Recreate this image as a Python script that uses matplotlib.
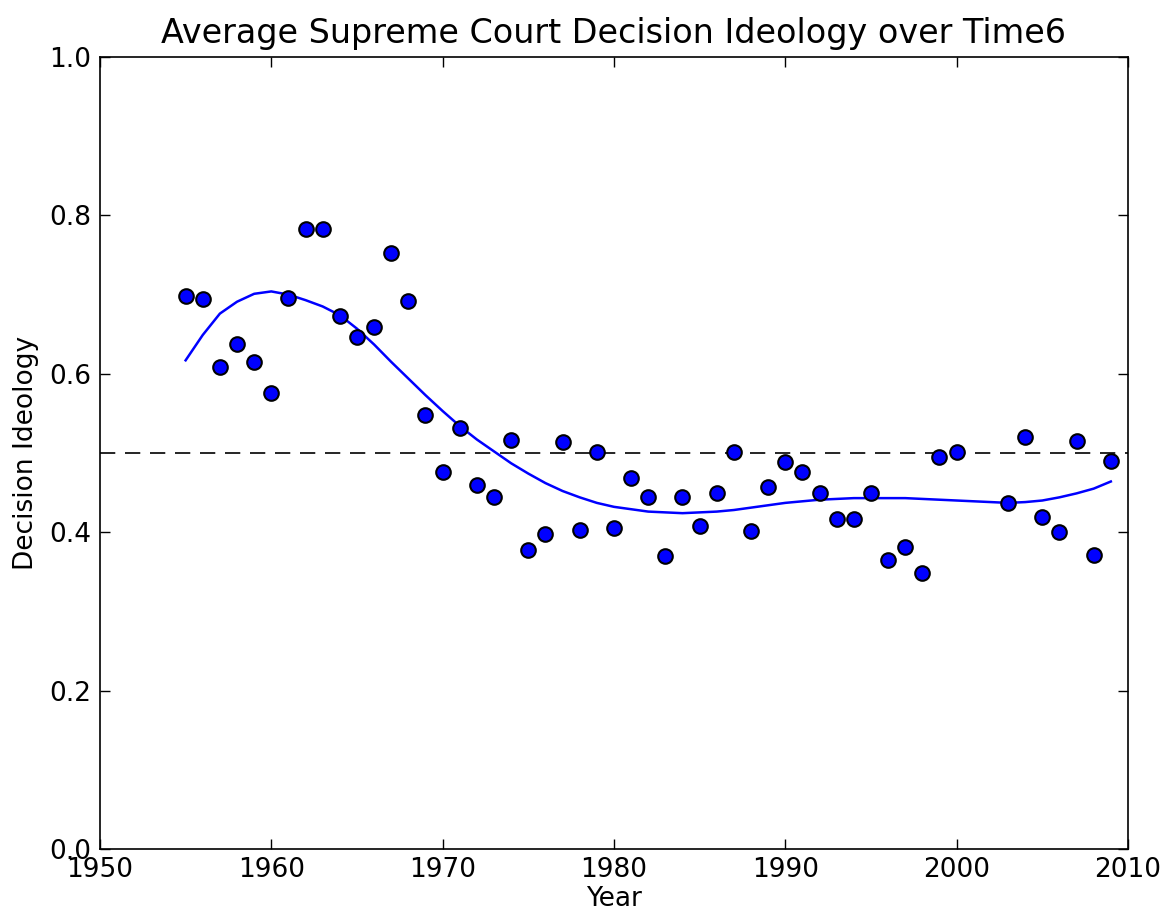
import matplotlib
matplotlib.use("Agg")
import matplotlib.pyplot as plt
import numpy as np

# yearly averages (2001, 2002 missing)
years = [1955, 1956, 1957, 1958, 1959, 1960, 1961, 1962, 1963, 1964,
         1965, 1966, 1967, 1968, 1969, 1970, 1971, 1972, 1973, 1974,
         1975, 1976, 1977, 1978, 1979, 1980, 1981, 1982, 1983, 1984,
         1985, 1986, 1987, 1988, 1989, 1990, 1991, 1992, 1993, 1994,
         1995, 1996, 1997, 1998, 1999, 2000, 2003, 2004, 2005, 2006,
         2007, 2008, 2009]
ideology = [0.698, 0.694, 0.609, 0.638, 0.615, 0.576, 0.696, 0.783, 0.783, 0.673,
            0.646, 0.659, 0.752, 0.692, 0.548, 0.476, 0.532, 0.459, 0.445, 0.517,
            0.378, 0.398, 0.514, 0.403, 0.501, 0.405, 0.468, 0.444, 0.370, 0.444,
            0.408, 0.449, 0.501, 0.402, 0.457, 0.489, 0.476, 0.449, 0.417, 0.417,
            0.449, 0.365, 0.381, 0.348, 0.495, 0.501, 0.437, 0.520, 0.419, 0.400,
            0.515, 0.371, 0.490]

# smoothed trend
trend_years = [1955, 1956, 1957, 1958, 1959, 1960, 1961, 1962, 1963, 1964,
               1965, 1966, 1967, 1968, 1969, 1970, 1971, 1972, 1973, 1974,
               1975, 1976, 1977, 1978, 1979, 1980, 1981, 1982, 1983, 1984,
               1985, 1986, 1987, 1988, 1989, 1990, 1991, 1992, 1993, 1994,
               1995, 1996, 1997, 1998, 1999, 2000, 2003, 2004, 2005, 2006,
               2007, 2008, 2009]
trend = [0.617, 0.649, 0.676, 0.691, 0.701, 0.704, 0.700, 0.693, 0.685, 0.674,
         0.657, 0.637, 0.615, 0.594, 0.573, 0.553, 0.534, 0.517, 0.502, 0.487,
         0.474, 0.462, 0.452, 0.444, 0.437, 0.432, 0.429, 0.426, 0.425, 0.424,
         0.425, 0.426, 0.428, 0.431, 0.434, 0.437, 0.439, 0.441, 0.442, 0.443,
         0.443, 0.443, 0.443, 0.442, 0.441, 0.440, 0.437, 0.438, 0.440, 0.444,
         0.449, 0.455, 0.464]

x_ticks = [1950, 1960, 1970, 1980, 1990, 2000, 2010]
y_ticks = [0.0, 0.2, 0.4, 0.6, 0.8, 1.0]

plt.rcParams['font.family'] = 'DejaVu Sans'
plt.rcParams['lines.scale_dashes'] = False

fig = plt.figure(figsize=(11.69, 9.18), dpi=100)
ax = fig.add_axes([0.0855, 0.0752, 0.8794, 0.8627])

ax.axhline(0.5, color='black', linewidth=1.2, dashes=(11, 7))
ax.plot(trend_years, trend, color='blue', linewidth=1.8, solid_joinstyle='round')
ax.plot(years, ideology, 'o', color='blue', markersize=10.5,
        markeredgecolor='black', markeredgewidth=1.5)

ax.set_xlim(1950, 2010)
ax.set_ylim(0, 1)
ax.set_xticks(x_ticks)
ax.set_yticks(y_ticks)
ax.set_xticklabels([str(t) for t in x_ticks])
ax.set_yticklabels([f"{t:.1f}" for t in y_ticks])
ax.tick_params(direction='in', length=7, width=1, top=True, right=True,
               labelsize=19, pad=6)
for s in ax.spines.values():
    s.set_linewidth(1.2)

ax.set_xlabel('Year', fontsize=19, labelpad=2)
ax.set_ylabel('Decision Ideology', fontsize=19, labelpad=8)
ax.set_title('Average Supreme Court Decision Ideology over Time6', fontsize=24, pad=10)

fig.savefig('out.png', dpi=100, facecolor='white')
